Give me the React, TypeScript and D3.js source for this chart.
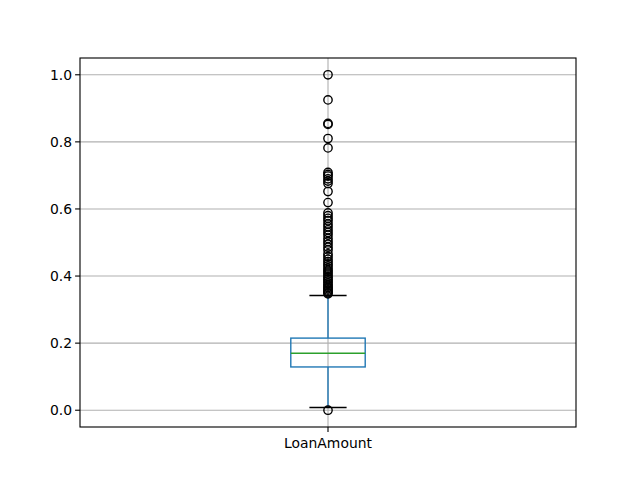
import React from 'react';
import * as d3 from 'd3';

const category = 'LoanAmount';
const boxStats = { whiskerLow: 0.008, q1: 0.129, median: 0.17, q3: 0.215, whiskerHigh: 0.342 };
const outliers = [
  0.0,
  1.0, 0.925, 0.855, 0.852, 0.81, 0.782,
  0.709, 0.703, 0.698, 0.69, 0.683, 0.676, 0.652, 0.619,
  0.588, 0.58, 0.572, 0.565, 0.555, 0.547, 0.538, 0.53, 0.522, 0.512,
  0.503, 0.495, 0.486, 0.478, 0.466, 0.458, 0.45, 0.443, 0.436, 0.43,
  0.423, 0.417, 0.412, 0.406, 0.4, 0.395, 0.39, 0.385, 0.38, 0.375,
  0.37, 0.366, 0.362, 0.358, 0.354, 0.35, 0.347,
];
const yTicks = [0.0, 0.2, 0.4, 0.6, 0.8, 1.0];

const W = 640, H = 480;
const margin = { left: 80, right: 64, top: 58, bottom: 53 };

export default function App() {
  const x = d3.scaleLinear().domain([0.5, 1.5]).range([margin.left, W - margin.right]);
  const y = d3.scaleLinear().domain([-0.05, 1.05]).range([H - margin.bottom, margin.top]);
  const cx = x(1);
  const boxHalf = x(1.075) - cx;
  const capHalf = boxHalf / 2;
  const font = 'DejaVu Sans, sans-serif';
  const lw = 1.39;

  return (
    <svg width={W} height={H} style={{ position: 'absolute', left: 0, top: 0, background: '#fff' }}>
      {/* grid */}
      {yTicks.map(t => (
        <line key={t} x1={margin.left} x2={W - margin.right} y1={y(t)} y2={y(t)} stroke="#b0b0b0" strokeWidth={1.11} />
      ))}
      <line x1={cx} x2={cx} y1={margin.top} y2={H - margin.bottom} stroke="#b0b0b0" strokeWidth={1.11} />

      {/* whiskers */}
      <line x1={cx} x2={cx} y1={y(boxStats.q3)} y2={y(boxStats.whiskerHigh)} stroke="#1f77b4" strokeWidth={lw} />
      <line x1={cx} x2={cx} y1={y(boxStats.q1)} y2={y(boxStats.whiskerLow)} stroke="#1f77b4" strokeWidth={lw} />
      <line x1={cx - capHalf} x2={cx + capHalf} y1={y(boxStats.whiskerHigh)} y2={y(boxStats.whiskerHigh)} stroke="#000" strokeWidth={lw} />
      <line x1={cx - capHalf} x2={cx + capHalf} y1={y(boxStats.whiskerLow)} y2={y(boxStats.whiskerLow)} stroke="#000" strokeWidth={lw} />

      {/* box */}
      <rect x={cx - boxHalf} y={y(boxStats.q3)} width={boxHalf * 2} height={y(boxStats.q1) - y(boxStats.q3)}
        fill="none" stroke="#1f77b4" strokeWidth={lw} />
      <line x1={cx - boxHalf} x2={cx + boxHalf} y1={y(boxStats.median)} y2={y(boxStats.median)} stroke="#2ca02c" strokeWidth={lw} />

      {/* fliers */}
      {outliers.map((v, i) => (
        <circle key={i} cx={cx} cy={y(v)} r={4.17} fill="none" stroke="#000" strokeWidth={lw} />
      ))}

      {/* axes frame */}
      <rect x={margin.left} y={margin.top} width={W - margin.left - margin.right} height={H - margin.top - margin.bottom}
        fill="none" stroke="#000" strokeWidth={1.11} />

      {/* y ticks */}
      {yTicks.map(t => (
        <g key={t}>
          <line x1={margin.left - 4.9} x2={margin.left} y1={y(t)} y2={y(t)} stroke="#000" strokeWidth={1.11} />
          <text x={margin.left - 8} y={y(t)} dy="0.36em" textAnchor="end" fontFamily={font} fontSize={13.9} fill="#000">
            {d3.format('.1f')(t)}
          </text>
        </g>
      ))}

      {/* x tick */}
      <line x1={cx} x2={cx} y1={H - margin.bottom} y2={H - margin.bottom + 4.9} stroke="#000" strokeWidth={1.11} />
      <text x={cx} y={H - margin.bottom + 21} textAnchor="middle" fontFamily={font} fontSize={13.9} fill="#000">
        {category}
      </text>
    </svg>
  );
}
